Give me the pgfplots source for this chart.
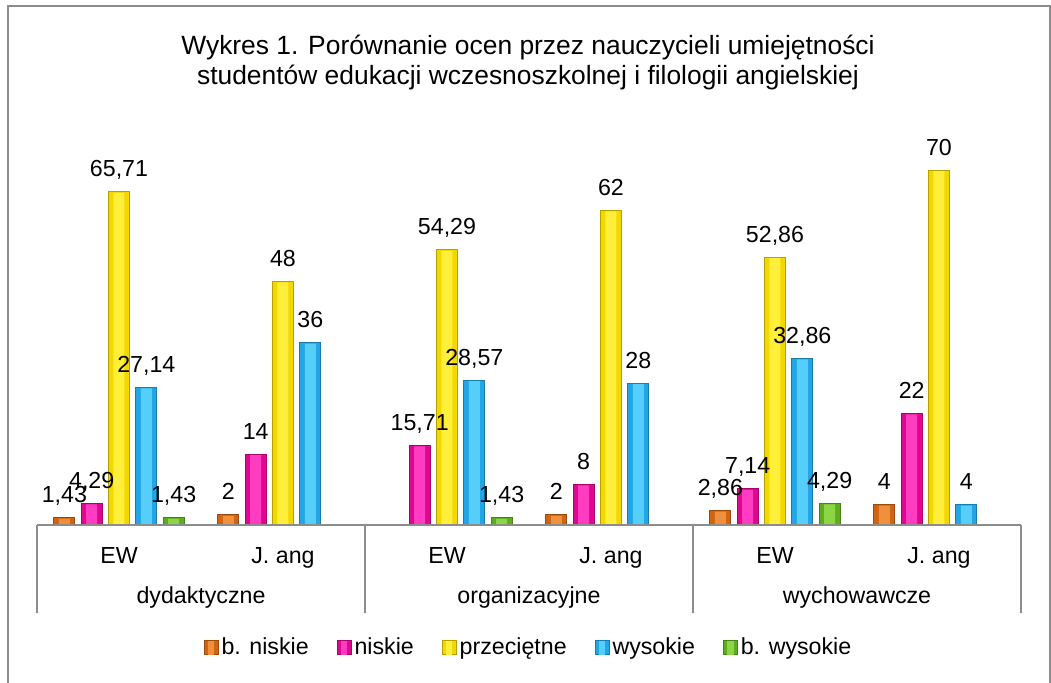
\documentclass[border=0pt]{standalone}
\usepackage{fontspec}
\setmainfont{Liberation Sans}
\usepackage{pgfplots}
\pgfplotsset{compat=1.18}
\definecolor{orA}{HTML}{D06410}\definecolor{orB}{HTML}{F0903C}
\definecolor{piA}{HTML}{E0068F}\definecolor{piB}{HTML}{FF3CC2}
\definecolor{yeA}{HTML}{F2D800}\definecolor{yeB}{HTML}{FFEF3A}
\definecolor{blA}{HTML}{22A6E6}\definecolor{blB}{HTML}{55CEFA}
\definecolor{grA}{HTML}{5DAE1E}\definecolor{grB}{HTML}{8CD646}
\definecolor{frame}{HTML}{8C8C8C}
\newcommand{\lab}{\fontsize{11.6}{14}\selectfont}
\pgfplotsset{
  mainbar/.style n args={3}{ybar, bar width=10.5pt, bar shift=#1, fill=#2, draw=#2!75!black, line width=0.4pt,
    nodes near coords={\pgfmathprintnumber[fixed,precision=2,use comma]{\pgfplotspointmeta}},
    every node near coord/.append style={font=\lab, text=black, anchor=base, inner sep=0pt, yshift=7.5pt, xshift=#1},
    legend image code/.code={\draw[fill=#2, draw=#2!75!black, line width=0.4pt] (0pt,-3.5pt) rectangle (7pt,3.5pt);
      \fill[#3] (2.2pt,-3.1pt) rectangle (4.8pt,3.1pt);}},
  hibar/.style n args={2}{ybar, bar width=5.5pt, bar shift=#1, fill=#2, draw=none, forget plot},
}
\begin{document}
\begin{tikzpicture}[x=1pt,y=1pt]
\useasboundingbox (0,0) rectangle (525.5,341);
\clip (0,0) rectangle (525.5,341);
\draw[frame, line width=1pt] (4,-5) rectangle (525,338);
\node[font=\fontsize{13.2}{15}\selectfont, anchor=base] at (264,313.5) {Wykres 1. Porównanie ocen przez nauczycieli umiejętności};
\node[font=\fontsize{13.2}{15}\selectfont, anchor=base] at (264,298.5) {studentów edukacji wczesnoszkolnej i filologii angielskiej};
\begin{axis}[
  at={(18.5pt,78.5pt)}, anchor=south west,
  scale only axis, width=492pt, height=202.8pt,
  xmin=-0.5, xmax=5.5, ymin=0, ymax=80,
  axis line style={draw=none},
  ytick=\empty,
  xtick={0,1,2,3,4,5},
  xticklabels={EW,J. ang,EW,J. ang,EW,J. ang},
  major tick length=0pt,
  xticklabel style={font=\lab, anchor=base, yshift=-19pt},
  /pgf/number format/assume math mode=true,
  legend columns=5,
  legend style={draw=none, at={(0.5,-0.303)}, anchor=center, font=\lab,
    /tikz/every even column/.append style={column sep=12.5pt},
    nodes={inner sep=1.5pt}},
  clip=false,
]
\addplot[mainbar={-27.3pt}{orA}{orB}] coordinates {(0,1.43) (1,2) (3,2) (4,2.86) (5,4)};
\addplot[mainbar={-13.65pt}{piA}{piB}] coordinates {(0,4.29) (1,14) (2,15.71) (3,8) (4,7.14) (5,22)};
\addplot[mainbar={0pt}{yeA}{yeB}] coordinates {(0,65.71) (1,48) (2,54.29) (3,62) (4,52.86) (5,70)};
\addplot[mainbar={13.65pt}{blA}{blB}] coordinates {(0,27.14) (1,36) (2,28.57) (3,28) (4,32.86) (5,4)};
\addplot[mainbar={27.3pt}{grA}{grB}] coordinates {(0,1.43) (2,1.43) (4,4.29)};
\legend{b. niskie, niskie, przeciętne, wysokie, b. wysokie}
\addplot[hibar={-27.3pt}{orB}] coordinates {(0,1.23) (1,1.8) (3,1.8) (4,2.66) (5,3.8)};
\addplot[hibar={-13.65pt}{piB}] coordinates {(0,4.09) (1,13.8) (2,15.51) (3,7.8) (4,6.94) (5,21.8)};
\addplot[hibar={0pt}{yeB}] coordinates {(0,65.51) (1,47.8) (2,54.09) (3,61.8) (4,52.66) (5,69.8)};
\addplot[hibar={13.65pt}{blB}] coordinates {(0,26.94) (1,35.8) (2,28.37) (3,27.8) (4,32.66) (5,3.8)};
\addplot[hibar={27.3pt}{grB}] coordinates {(0,1.23) (2,1.23) (4,4.09)};
\draw[frame, line width=0.8pt] (axis cs:-0.5,0) -- (axis cs:5.5,0);
\draw[frame, line width=0.8pt] (axis cs:-0.5,0) -- ([yshift=-44pt]axis cs:-0.5,0);
\draw[frame, line width=0.8pt] (axis cs:1.5,0) -- ([yshift=-44pt]axis cs:1.5,0);
\draw[frame, line width=0.8pt] (axis cs:3.5,0) -- ([yshift=-44pt]axis cs:3.5,0);
\draw[frame, line width=0.8pt] (axis cs:5.5,0) -- ([yshift=-44pt]axis cs:5.5,0);
\node[font=\lab, anchor=base] at ([yshift=-39pt]axis cs:0.5,0) {dydaktyczne};
\node[font=\lab, anchor=base] at ([yshift=-39pt]axis cs:2.5,0) {organizacyjne};
\node[font=\lab, anchor=base] at ([yshift=-39pt]axis cs:4.5,0) {wychowawcze};
\end{axis}
\end{tikzpicture}
\end{document}
